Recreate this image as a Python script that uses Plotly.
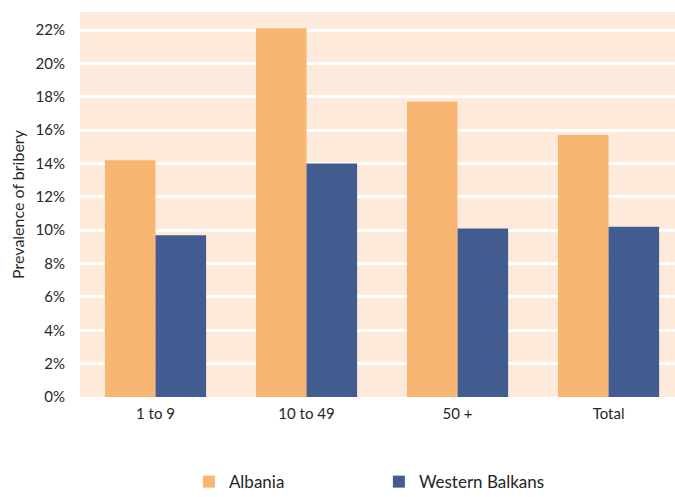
import plotly.graph_objects as go

categories = ["1 to 9", "10 to 49", "50 +", "Total"]
albania = [14.2, 22.1, 17.7, 15.7]
western_balkans = [9.7, 14.0, 10.1, 10.2]
tick_vals = [0, 2, 4, 6, 8, 10, 12, 14, 16, 18, 20, 22]
tick_text = [f"{v}%" for v in tick_vals]

fig = go.Figure()
fig.add_bar(x=categories, y=albania, name="Albania",
            marker=dict(color="#F9B673", line=dict(width=0)))
fig.add_bar(x=categories, y=western_balkans, name="Western Balkans",
            marker=dict(color="#425C8F", line=dict(width=0)))

fig.update_layout(
    width=675, height=497,
    margin=dict(l=80, r=0, t=12, b=100, autoexpand=False),
    paper_bgcolor="white",
    plot_bgcolor="#FDEADB",
    barmode="group",
    bargap=0.33,
    bargroupgap=0,
    font=dict(family="Lato, Open Sans, sans-serif", size=15, color="#262626"),
    showlegend=True,
    legend=dict(orientation="h", x=0.183, xanchor="left",
                yref="container", y=0.03, yanchor="middle",
                entrywidth=145, entrywidthmode="pixels",
                font=dict(size=17), itemsizing="constant"),
    xaxis=dict(range=[-0.5, 3.44], showgrid=False, zeroline=False,
               showline=False, ticks="", ticklabelstandoff=6,
               tickfont=dict(size=15)),
    yaxis=dict(range=[0, 23.08], tickvals=tick_vals, ticktext=tick_text,
               showgrid=True, gridcolor="white", gridwidth=2.5,
               zeroline=False, showline=False, ticks="",
               ticklabelstandoff=14,
               tickfont=dict(size=15), automargin=False,
               title=dict(text="Prevalence of bribery", font=dict(size=16), standoff=6)),
)

fig.write_html(
    "out.html",
    config={"displayModeBar": False},
    post_script="document.body.style.margin='0px';"
                "document.body.style.overflow='hidden';"
                "document.documentElement.style.overflow='hidden';",
)
